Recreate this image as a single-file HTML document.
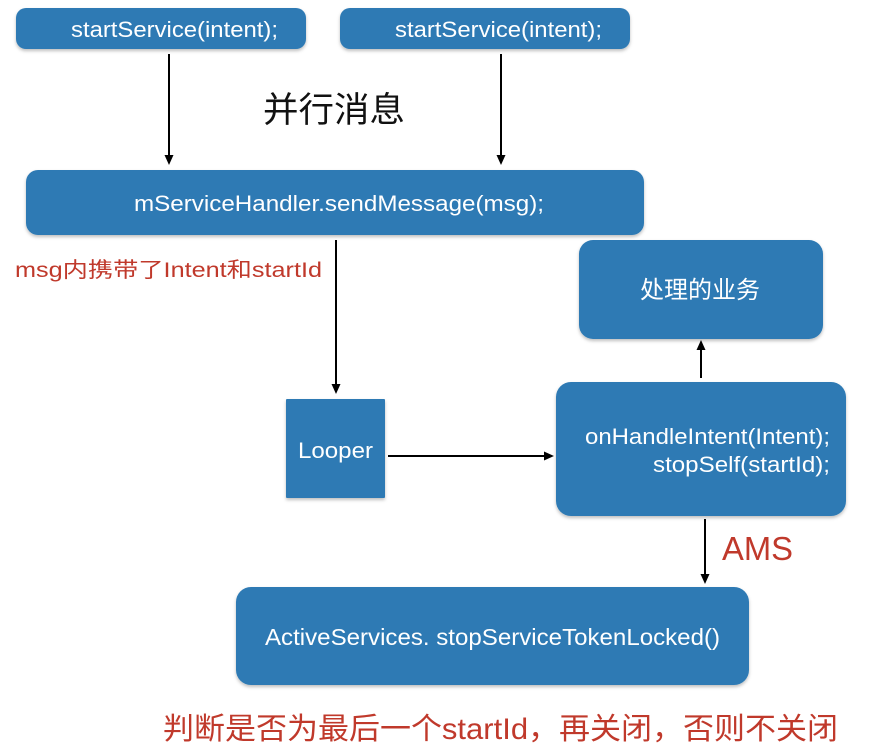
<!DOCTYPE html>
<html>
<head>
<meta charset="utf-8">
<style>
  html,body{margin:0;padding:0;background:#fff;}
  svg{display:block;}
  .w{fill:#ffffff;font-family:"Liberation Sans","Noto Sans CJK SC",sans-serif;}
  .r{fill:#c0392b;font-family:"Liberation Sans","Noto Sans CJK SC",sans-serif;}
  .k{fill:#111;font-family:"Liberation Sans","Noto Sans CJK SC",sans-serif;}
</style>
</head>
<body>
<svg width="892" height="752" viewBox="0 0 892 752" xmlns="http://www.w3.org/2000/svg">
  <defs>
    <filter id="sh" x="-5%" y="-10%" width="110%" height="130%">
      <feDropShadow dx="0" dy="2" stdDeviation="1.5" flood-color="#000" flood-opacity="0.25"/>
    </filter>
  </defs>
  <rect width="892" height="752" fill="#fff"/>

  <!-- boxes -->
  <g fill="#2e7ab4" filter="url(#sh)">
    <rect x="16" y="8" width="290" height="41" rx="10"/>
    <rect x="340" y="8" width="290" height="41" rx="10"/>
    <rect x="26" y="170" width="618" height="65" rx="12"/>
    <rect x="579" y="240" width="244" height="99" rx="14"/>
    <rect x="286" y="399" width="99" height="99" rx="1"/>
    <rect x="556" y="382" width="290" height="134" rx="15"/>
    <rect x="236" y="587" width="513" height="98" rx="15"/>
  </g>

  <!-- connectors -->
  <g stroke="#000" stroke-width="2" fill="none">
    <line x1="169" y1="54" x2="169" y2="157"/>
    <line x1="501" y1="54" x2="501" y2="157"/>
    <line x1="336" y1="240" x2="336" y2="385"/>
    <line x1="388" y1="456" x2="545" y2="456"/>
    <line x1="701" y1="378" x2="701" y2="349"/>
    <line x1="705" y1="519" x2="705" y2="575"/>
  </g>
  <g fill="#000">
    <polygon points="164.5,155 173.5,155 169,165"/>
    <polygon points="496.5,155 505.5,155 501,165"/>
    <polygon points="331.5,384 340.5,384 336,394"/>
    <polygon points="544,451.5 544,460.5 554,456"/>
    <polygon points="696.5,350 705.5,350 701,340"/>
    <polygon points="700.5,574 709.5,574 705,584"/>
  </g>

  <!-- texts -->
  <text class="w" x="71" y="37" font-size="22" textLength="207" lengthAdjust="spacingAndGlyphs">startService(intent);</text>
  <text class="w" x="395" y="37" font-size="22" textLength="207" lengthAdjust="spacingAndGlyphs">startService(intent);</text>
  <text class="k" x="263" y="122" font-size="35" textLength="142" lengthAdjust="spacingAndGlyphs">并行消息</text>
  <text class="w" x="134" y="211" font-size="22" textLength="410" lengthAdjust="spacingAndGlyphs">mServiceHandler.sendMessage(msg);</text>
  <text class="r" x="15" y="277" font-size="21" textLength="307" lengthAdjust="spacingAndGlyphs">msg内携带了Intent和startId</text>
  <text class="w" x="640" y="298" font-size="24" textLength="120" lengthAdjust="spacingAndGlyphs">处理的业务</text>
  <text class="w" x="298" y="458" font-size="22" textLength="75" lengthAdjust="spacingAndGlyphs">Looper</text>
  <text class="w" x="585" y="444" font-size="22" textLength="245" lengthAdjust="spacingAndGlyphs">onHandleIntent(Intent);</text>
  <text class="w" x="653" y="472" font-size="22" textLength="177" lengthAdjust="spacingAndGlyphs">stopSelf(startId);</text>
  <text class="r" x="722" y="560" font-size="33" textLength="71" lengthAdjust="spacingAndGlyphs">AMS</text>
  <text class="w" x="265" y="645" font-size="23" textLength="455" lengthAdjust="spacingAndGlyphs">ActiveServices. stopServiceTokenLocked()</text>
  <text class="r" x="163" y="739" font-size="30" textLength="675" lengthAdjust="spacingAndGlyphs">判断是否为最后一个startId，再关闭，否则不关闭</text>
</svg>
</body>
</html>
